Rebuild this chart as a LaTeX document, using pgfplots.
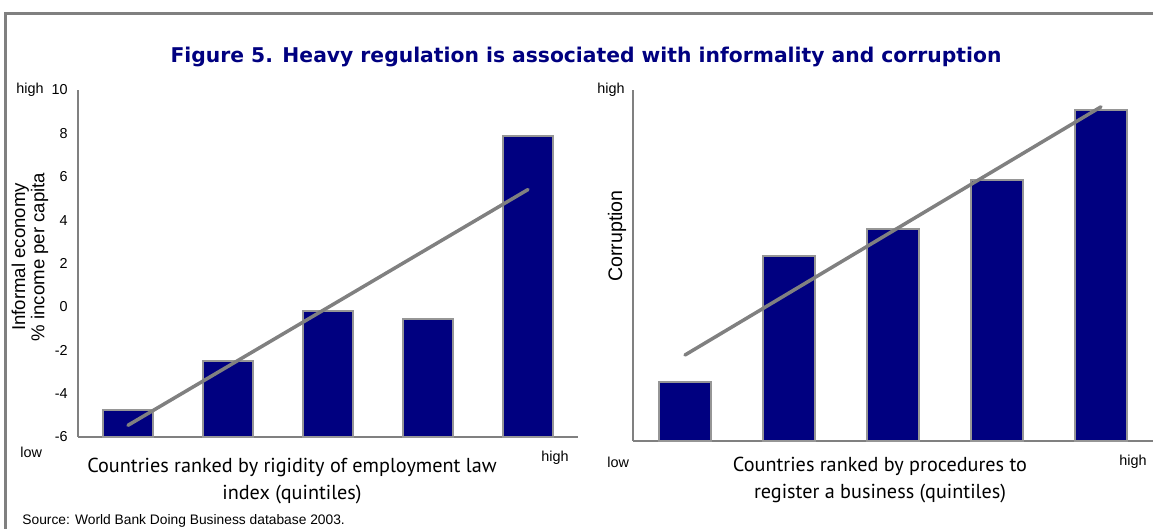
\documentclass[border=0pt]{standalone}
\usepackage{fontspec}
\setmainfont{Liberation Sans}
\newfontfamily\titlefont{DejaVu Sans}
\newfontfamily\labelfont{PT Sans}
\usepackage{pgfplots}
\usepackage{pgfplotstable}
\pgfplotsset{compat=1.18}
\definecolor{barblue}{RGB}{0,0,128}
\definecolor{edgegray}{RGB}{150,150,150}
\definecolor{linegray}{RGB}{128,128,128}

% left: informal economy (% income per capita), quintiles of rigidity index
\pgfplotstableread{
q v
1 -4.75
2 -2.5
3 -0.2
4 -0.56
5 7.87
}\informal
\pgfplotstableread{
q v
1 -5.46
5 5.41
}\informalfit
% right: corruption (no scale), quintiles of procedures
\pgfplotstableread{
q v
1 1.68
2 5.27
3 6.04
4 7.44
5 9.43
}\corrupt
\pgfplotstableread{
q v
1 2.45
5 9.52
}\corruptfit

\pgfplotsset{
  regchart/.style={
    scale only axis, anchor=south west,
    xmin=0.5, xmax=5.5,
    axis lines=left,
    axis line style={-, draw=linegray, line width=1.2pt},
    xtick=\empty, major tick length=0pt,
    clip=false,
    tick label style={font=\fontsize{7.2}{8}\selectfont},
    yticklabel style={inner sep=0pt, xshift=-5pt},
  },
}

\begin{document}
\begin{tikzpicture}[x=0.5pt, y=-0.5pt]
\useasboundingbox (0,0) rectangle (1153,529);
\draw[linegray, line width=1.75pt] (5.5,700) -- (5.5,13.5) -- (1300,13.5);

\node[font=\titlefont\bfseries\fontsize{10.15}{12}\selectfont, text=barblue] at (586,57)
  {Figure 5. Heavy regulation is associated with informality and corruption};

% left chart
\begin{axis}[regchart, at={(39pt,-218.5pt)}, width=250pt, height=173.5pt,
  ymin=0, ymax=16, ytick={0,2,...,16},
  yticklabels={-6,-4,-2,0,2,4,6,8,10}]
\addplot[ybar, bar width=25pt, fill=barblue, draw=edgegray, line width=1pt]
  table[x=q, y expr=\thisrow{v}+6] {\informal};
\addplot[sharp plot, linegray, line width=1.75pt, line cap=round]
  table[x=q, y expr=\thisrow{v}+6] {\informalfit};
\end{axis}

% right chart
\begin{axis}[regchart, at={(316.5pt,-220.5pt)}, width=260pt, height=175.5pt,
  ymin=0, ymax=10, ytick=\empty]
\addplot[ybar, bar width=26pt, fill=barblue, draw=edgegray, line width=1pt]
  table[x=q, y=v] {\corrupt};
\addplot[sharp plot, linegray, line width=1.75pt, line cap=round]
  table[x=q, y=v] {\corruptfit};
\end{axis}

\begin{scope}[every node/.style={font=\fontsize{7.2}{8}\selectfont, inner sep=0pt}]
\node[anchor=west] at (16,90) {high};
\node[anchor=west] at (20,452) {low};
\node[anchor=west] at (541,458) {high};
\node[anchor=east] at (625,90) {high};
\node[anchor=west] at (607,462) {low};
\node[anchor=west] at (1119,462) {high};
\end{scope}

\begin{scope}[every node/.style={align=center, inner sep=0pt}]
\node[rotate=90, font=\fontsize{9.3}{8.3}\selectfont] at (30,257) {Informal economy\\\% income per capita};
\node[rotate=90, font=\fontsize{9.8}{10}\selectfont] at (617,236) {Corruption};
\end{scope}

\begin{scope}[every node/.style={font=\labelfont\fontsize{10.1}{13.5}\selectfont, align=center, inner sep=0pt}]
\node at (292,481) {Countries ranked by rigidity of employment law\\index (quintiles)};
\node at (880,480) {Countries ranked by procedures to\\register a business (quintiles)};
\end{scope}

\node[anchor=west, inner sep=0pt, font=\fontsize{6.9}{7}\selectfont] at (22,521)
  {Source: World Bank Doing Business database 2003.};
\end{tikzpicture}
\end{document}
